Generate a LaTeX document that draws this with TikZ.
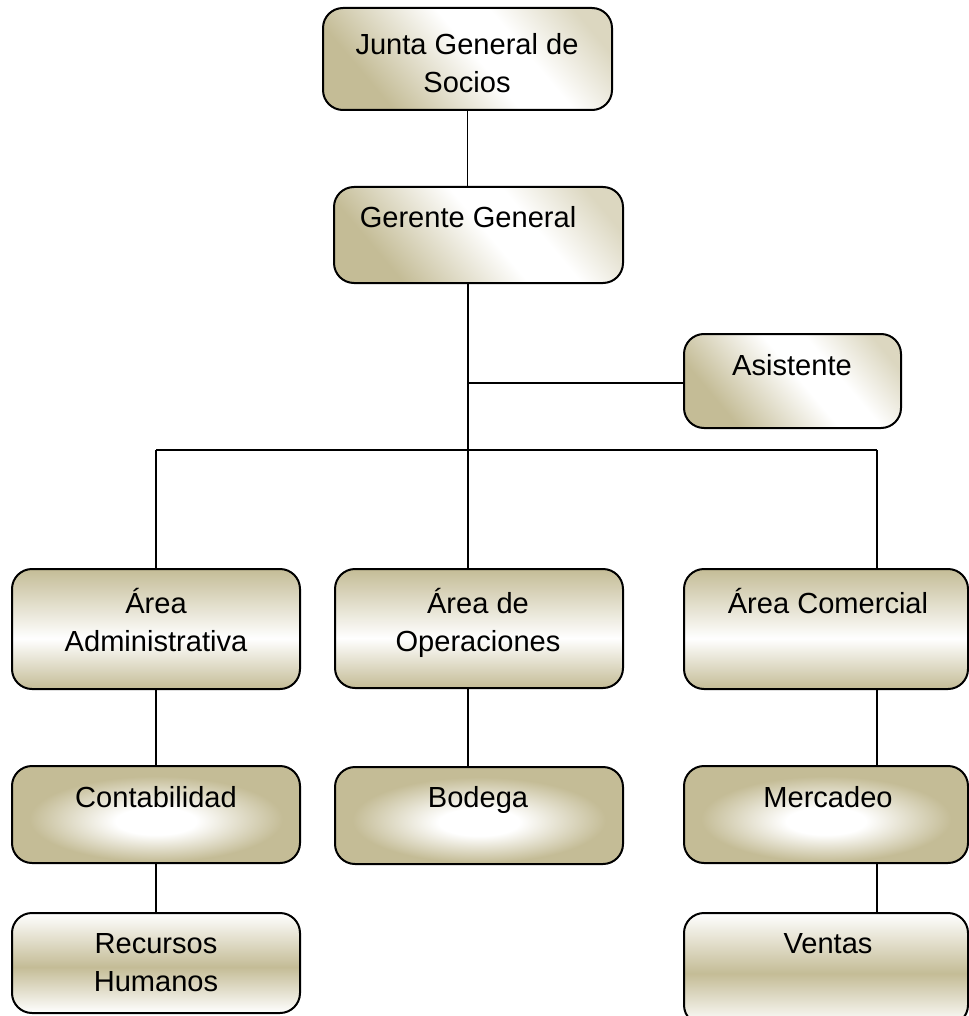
\documentclass[tikz,border=0pt]{standalone}
\usepackage{fontspec}
\setmainfont{Liberation Sans}
\definecolor{tanc}{RGB}{196,188,150}
\pgfdeclarehorizontalshading{diagtan}{100bp}{color(0bp)=(tanc); color(28bp)=(tanc); color(52bp)=(white); color(62bp)=(white); color(78bp)=(tanc!60); color(100bp)=(tanc!60)}
\pgfdeclareradialshading{centertan}{\pgfpoint{0bp}{-4bp}}{color(0bp)=(white); color(7bp)=(white); color(22bp)=(tanc); color(50bp)=(tanc)}
\pgfdeclareverticalshading{midwhiteshade}{100bp}{color(0bp)=(tanc); color(25bp)=(tanc); color(46bp)=(white); color(75bp)=(tanc); color(100bp)=(tanc)}
\pgfdeclareverticalshading{midtanshade}{100bp}{color(0bp)=(white); color(25bp)=(white); color(48bp)=(tanc); color(75bp)=(white); color(100bp)=(white)}
\begin{document}
\begin{tikzpicture}[x=0.75pt,y=-0.75pt,
  box/.style={rectangle, rounded corners=15pt, draw=black, line width=1.5pt, inner sep=0pt, outer sep=0pt},
  diagbox/.style={box, shading=diagtan, shading angle=40},
  midwhite/.style={box, shading=midwhiteshade},
  midtan/.style={box, shading=midtanshade},
  ctrbox/.style={box, shading=centertan},
  lbl/.style={anchor=base, align=center, inner sep=0pt, font=\fontsize{21.8pt}{28.5pt}\selectfont},
  conn/.style={draw=black, line width=1pt}]
\useasboundingbox (0,0) rectangle (969,1016);
% boxes
\node[diagbox, minimum width=216.75pt, minimum height=76.5pt] (junta) at (467.5,59) {};
\node[diagbox, minimum width=216.75pt, minimum height=72pt] (gerente) at (478.5,235) {};
\node[diagbox, minimum width=162.75pt, minimum height=70.5pt] (asist) at (792.5,381) {};
\node[midwhite, minimum width=216pt, minimum height=90pt] (admin) at (156,629) {};
\node[midwhite, minimum width=216pt, minimum height=89.25pt] (oper) at (479,628.5) {};
\node[midwhite, minimum width=213pt, minimum height=90pt] (comer) at (826,629) {};
\node[ctrbox, minimum width=216pt, minimum height=72.75pt] (contab) at (156,814.5) {};
\node[ctrbox, minimum width=216pt, minimum height=72.75pt] (bodega) at (479,815.5) {};
\node[ctrbox, minimum width=213pt, minimum height=72.75pt] (merc) at (826,814.5) {};
\node[midtan, minimum width=216pt, minimum height=75pt] (rrhh) at (156,963) {};
\node[midtan, minimum width=213pt, minimum height=84pt] (ventas) at (826,969) {};
% labels (base anchor = baseline of the last line)
\node[lbl] (juntaT) at (467,93) {Junta General de\\Socios};
\node[lbl] (gerenteT) at (468,228) {Gerente General};
\node[lbl] (asistT) at (792,375) {Asistente};
\node[lbl] (adminT) at (156,651) {Área\\Administrativa};
\node[lbl] (operT) at (478,651) {Área de\\Operaciones};
\node[lbl] (comerT) at (828,613) {Área Comercial};
\node[lbl] (contabT) at (156,807) {Contabilidad};
\node[lbl] (bodegaT) at (478,807) {Bodega};
\node[lbl] (mercT) at (828,807) {Mercadeo};
\node[lbl] (rrhhT) at (156,991) {Recursos\\Humanos};
\node[lbl] (ventasT) at (828,953) {Ventas};
% junction points
\coordinate (j1) at (468,383);
\coordinate (j2) at (468,450);
\coordinate (bl) at (156,450);
\coordinate (br) at (877,450);
% connectors
\draw[conn] (junta.south) -- (junta.south |- gerente.north);
\draw[conn] (gerente.south -| j1) -- (j1) -- (j2) -- (j2 |- oper.north);
\draw[conn] (j1) -- (j1 -| asist.west);
\draw[conn] (bl) -- (br);
\draw[conn] (bl) -- (bl |- admin.north);
\draw[conn] (br) -- (br |- comer.north);
\draw[conn] (admin.south) -- (contab.north);
\draw[conn] (contab.south) -- (rrhh.north);
\draw[conn] (oper.south -| j2) -- (bodega.north -| j2);
\draw[conn] (comer.south -| br) -- (merc.north -| br);
\draw[conn] (merc.south -| br) -- (ventas.north -| br);
\end{tikzpicture}
\end{document}
